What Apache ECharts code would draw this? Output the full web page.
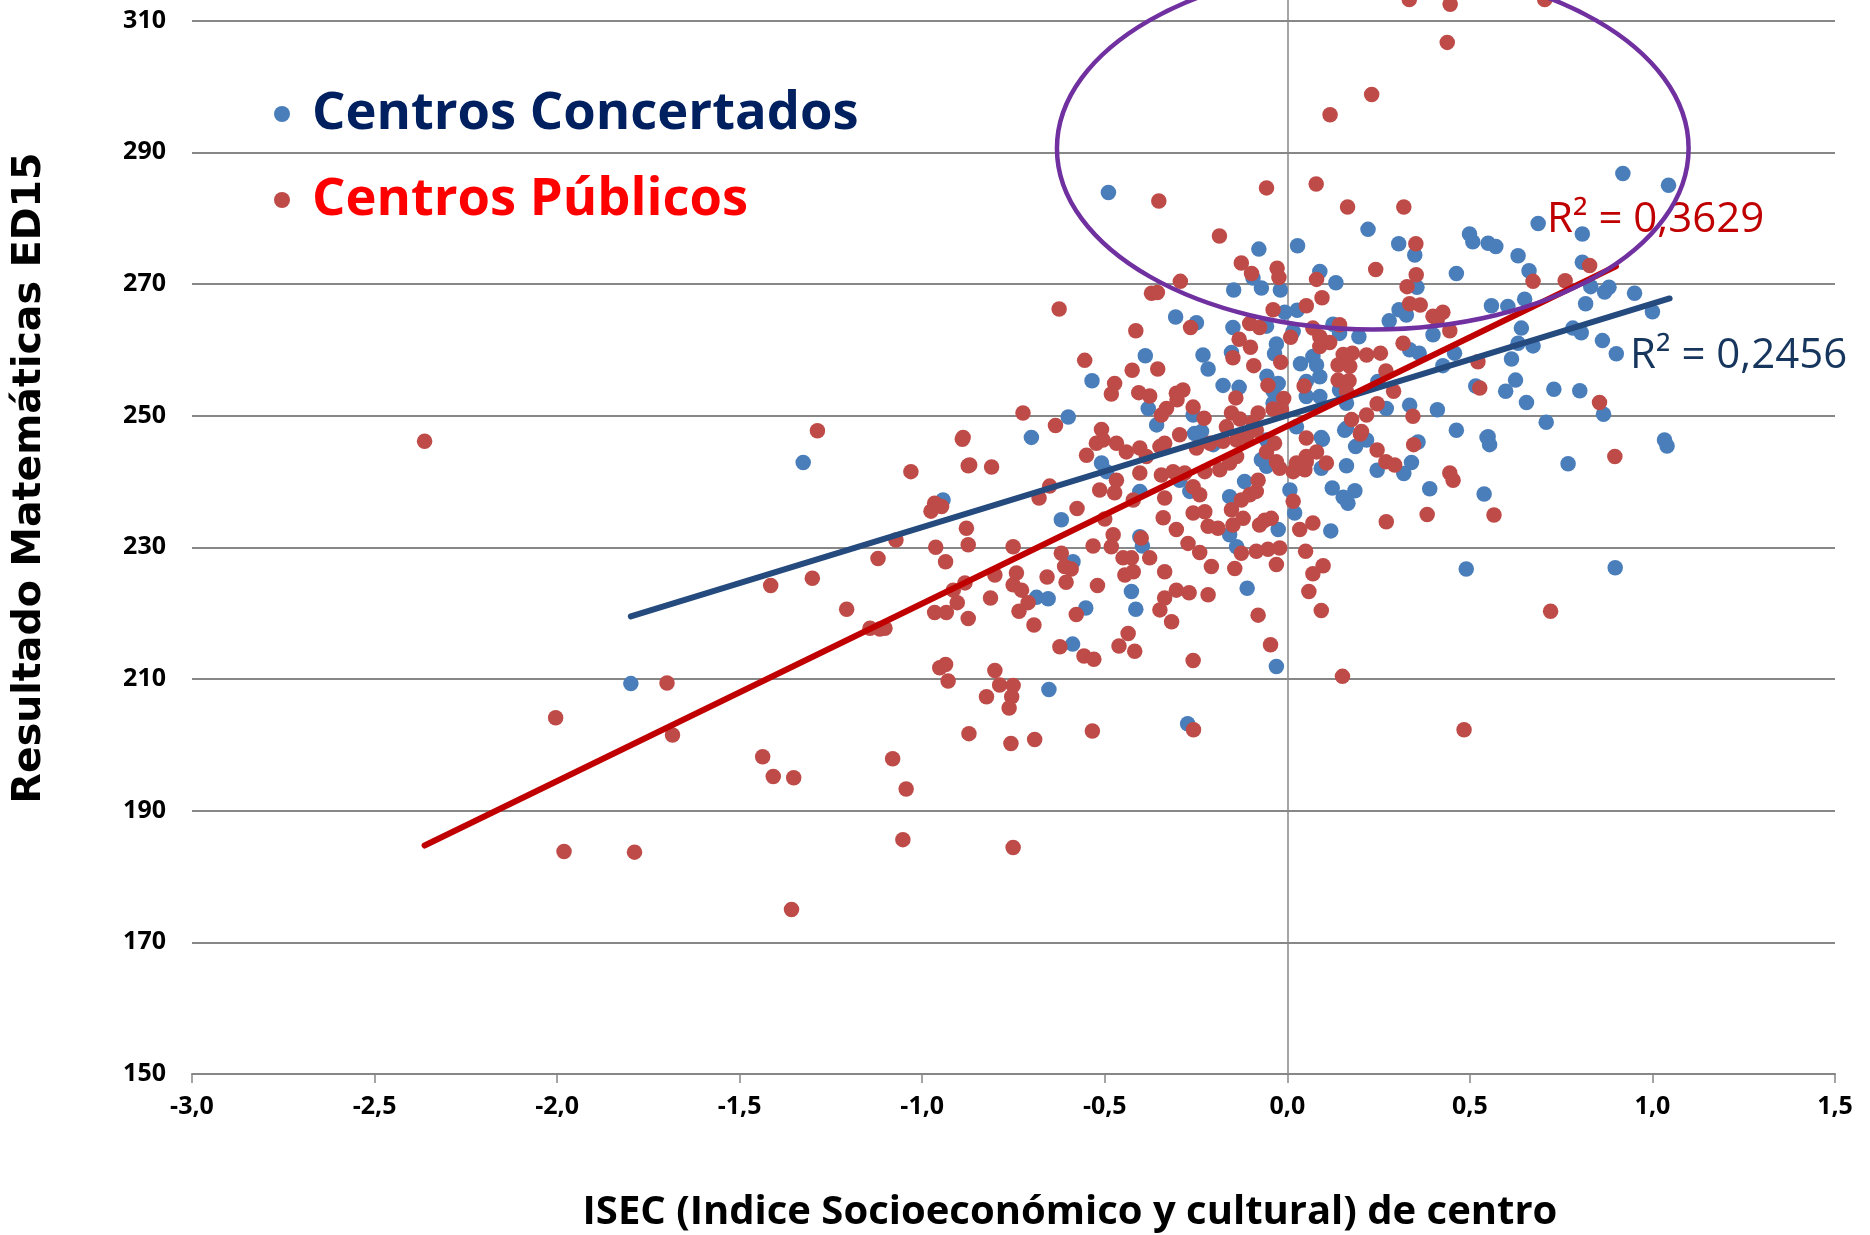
<!DOCTYPE html>
<html>
<head>
<meta charset="utf-8">
<script src="https://cdn.jsdelivr.net/npm/echarts@6/dist/echarts.min.js"></script>
<style>
  html, body { margin: 0; padding: 0; background: #fff; }
  #chart { width: 1870px; height: 1235px; }
</style>
</head>
<body>
<div id="chart"></div>
<script>
// ISEC (x) vs resultado matemáticas (y)
var concertados = [
  [-0.078,275.3],[0.028,275.8],[-0.094,270.9],[-0.071,269.4],[-0.019,269.1],[-0.147,269.1],[-0.007,265.7],[0.027,266.0],
  [-0.057,263.6],[-0.306,265.0],[-0.249,264.1],[-0.149,263.4],[-0.030,260.9],[-0.035,259.4],[0.016,262.8],[-0.389,259.1],
  [-0.231,259.2],[-0.217,257.1],[-0.153,259.6],[0.036,257.9],[-0.535,255.3],[-0.176,254.6],[-0.132,254.3],[-0.056,256.0],
  [-0.025,254.9],[-0.039,253.8],[0.052,252.9],[-0.039,251.9],[-0.381,251.1],[-0.358,248.6],[-0.258,250.1],[-0.600,249.8],
  [0.025,248.3],[-0.701,246.7],
  [0.687,279.2],[0.221,278.3],[0.499,277.6],[0.508,276.4],[0.808,277.6],[0.550,276.2],[0.571,275.7],[0.305,276.1],
  [0.349,274.4],[0.632,274.3],[0.808,273.3],[0.662,272.0],[0.089,271.9],[0.463,271.6],[0.133,270.2],[0.355,269.5],
  [0.831,269.6],[0.881,269.5],[0.869,268.8],[0.951,268.6],[1.000,265.8],[0.650,267.7],[0.559,266.7],[0.604,266.6],
  [0.817,267.0],[0.306,266.1],[0.326,265.3],[0.279,264.4],[0.125,263.9],[0.143,262.5],[0.196,262.0],[0.399,262.3],
  [0.641,263.3],[0.782,263.3],[0.805,262.6],[0.632,261.0],[0.673,260.6],[0.863,261.4],[0.901,259.4],[0.335,260.0],
  [0.361,259.5],[0.458,259.5],[0.614,258.6],[0.426,257.6],[0.080,257.7],[0.089,255.9],[0.248,255.2],[0.516,254.5],
  [0.625,255.4],[0.143,253.9],[0.598,253.7],[0.730,254.0],[0.801,253.8],[0.866,250.2],[0.655,252.0],[0.162,251.9],
  [0.335,251.6],[0.271,251.1],[0.411,250.9],[0.709,249.0],[0.463,247.8],[0.162,248.1],[0.550,246.8],[0.093,246.7],
  [1.033,246.3],[0.089,252.9],[0.052,255.2],[0.070,259.0],
  [-0.254,247.3],[-0.235,247.6],[-0.203,245.6],[-0.057,246.3],[-0.071,243.3],[-0.057,242.3],[-0.509,242.8],[-0.495,241.5],
  [-0.295,240.2],[-0.267,238.5],[-0.404,238.5],[-0.158,237.7],[-0.117,240.0],[0.007,238.7],[0.020,235.2],[-0.619,234.2],
  [-0.404,231.6],[-0.397,230.2],[-0.158,231.9],[-0.139,230.1],[-0.025,232.7],[-0.587,227.8],[-0.110,223.8],[-0.427,223.3],
  [-0.687,222.4],[-0.655,222.2],[-0.552,220.8],[-0.415,220.6],[-0.588,215.3],[-0.030,211.9],
  [0.096,246.4],[0.157,247.8],[0.217,246.3],[0.187,245.3],[0.093,242.0],[0.162,242.4],[0.246,241.7],[0.319,241.2],
  [0.340,242.9],[0.358,246.0],[0.547,246.7],[0.554,245.6],[1.040,245.4],[0.769,242.7],[0.123,239.0],[0.153,237.6],
  [0.185,238.6],[0.166,236.7],[0.390,238.9],[0.539,238.1],[0.119,232.5],[0.490,226.7],[0.898,226.9],
  [-1.326,242.9],[-0.943,237.2],[-1.798,209.3],[-0.653,208.4],[-0.273,203.2],[-0.490,283.9],[0.919,286.8],[1.044,285.0]
];

var publicos = [
  [-2.363,246.1],[-2.004,204.1],[-1.981,183.8],[-1.788,183.7],[-1.699,209.4],[-1.684,201.5],[-1.437,198.2],[-1.408,195.2],
  [-1.352,195.0],[-1.358,175.0],[-1.415,224.2],[-1.287,247.7],[-1.301,225.3],[-1.207,220.6],[-1.143,217.7],[-1.116,217.6],
  [-1.102,217.7],[-1.121,228.3],[-1.072,231.1],[-1.081,197.9],[-1.044,193.3],[-1.053,185.6],[-1.031,241.5],[-0.890,246.4],
  [-0.874,242.4],[-0.966,236.7],[-0.947,236.2],[-0.976,235.5],[-0.963,230.0],[-0.936,227.8],[-0.915,223.5],[-0.883,224.6],
  [-0.904,221.6],[-0.966,220.1],[-0.934,220.1],[-0.952,211.7],[-0.936,212.2],[-0.929,209.7],
  [-0.788,209.1],[-0.751,209.0],[-0.824,207.3],[-0.755,207.3],[-0.762,205.6],[-0.872,201.7],[-0.757,200.2],[-0.692,200.8],
  [-0.534,202.1],[-0.751,184.4],
  [0.151,210.4],[0.484,202.3],[0.721,220.3],[-0.257,202.3],
  [0.334,313.2],[0.446,312.5],[0.705,313.2],[0.438,306.7],[0.231,298.8],[0.117,295.7],[-0.057,284.6],[0.079,285.2],
  [0.165,281.7],[0.319,281.7],[-0.352,282.6],[-0.186,277.3],
  [-0.126,273.2],[-0.098,271.6],[-0.028,272.4],[-0.023,271.0],[-0.293,270.4],[-0.372,268.6],[-0.356,268.7],[-0.625,266.2],
  [-0.039,266.1],[0.052,266.7],[-0.103,264.0],[-0.076,263.4],[-0.265,263.4],[-0.415,262.9],[-0.132,261.6],[-0.101,260.4],
  [0.009,261.9],[-0.555,258.4],[-0.149,258.8],[-0.092,257.6],[-0.018,258.1],[-0.425,256.9],[-0.355,257.1],[-0.473,254.9],
  [-0.482,253.3],[-0.407,253.5],[-0.377,253.0],[-0.053,254.6],[0.046,254.5],[-0.304,253.4],[-0.286,253.9],[-0.302,252.4],
  [-0.141,252.7],[-0.010,252.6],[-0.331,251.1],[-0.345,250.1],[-0.258,251.3],[-0.228,249.6],[-0.724,250.4],[-0.635,248.5],
  [-0.153,250.4],[-0.130,249.5],[-0.080,250.4],[-0.039,251.0],[-0.016,250.9],[-0.094,249.0],[-0.167,248.3],[-0.509,247.9],
  [-0.888,246.7],
  [0.352,276.1],[0.828,272.8],[0.242,272.2],[0.353,271.4],[0.080,270.7],[0.673,270.4],[0.761,270.5],[0.328,269.6],
  [0.095,267.9],[0.335,267.0],[0.364,266.8],[0.399,265.1],[0.426,265.7],[0.411,264.7],[0.143,263.8],[0.070,263.3],
  [0.089,262.0],[0.445,262.9],[0.089,260.5],[0.116,261.1],[0.317,261.0],[0.153,259.3],[0.178,259.5],[0.217,259.2],
  [0.255,259.5],[0.522,258.2],[0.139,257.7],[0.171,257.5],[0.270,256.8],[0.139,255.4],[0.169,255.3],[0.527,254.2],
  [0.162,253.7],[0.291,253.7],[0.855,252.0],[0.246,251.8],[0.217,250.1],[0.176,249.4],[0.344,249.9],[0.203,247.6],
  [-0.523,245.8],[-0.505,246.3],[-0.468,245.8],[-0.550,244.0],[-0.441,244.5],[-0.404,245.1],[-0.386,243.8],[-0.349,245.3],
  [-0.336,245.8],[-0.295,247.1],[-0.249,245.1],[-0.212,245.8],[-0.176,246.1],[-0.139,246.3],[-0.112,246.8],[-0.085,247.8],
  [-0.035,245.8],[-0.057,244.5],[-0.030,243.0],[-0.021,242.0],[0.016,241.5],[0.025,242.8],[0.052,243.0],[0.048,241.8],
  [-0.870,242.5],[-0.810,242.2],[-0.404,241.3],[-0.345,241.0],[-0.313,241.5],[-0.281,241.3],[-0.226,241.5],[-0.185,241.8],
  [-0.158,242.8],[-0.139,243.8],[-0.468,240.2],[-0.514,238.7],[-0.473,238.3],[-0.258,239.2],[-0.240,238.0],[-0.422,237.2],
  [-0.336,237.5],[-0.126,237.2],[-0.103,238.0],[-0.085,238.5],[-0.080,240.2],[-0.651,239.3],[-0.680,237.5],[-0.879,232.9],
  [-0.874,230.4],[-0.576,235.9],[-0.500,234.3],[-0.340,234.5],[-0.258,235.2],[-0.226,235.4],[-0.217,233.2],[-0.190,232.9],
  [-0.153,235.7],[-0.149,233.4],[-0.121,234.4],[-0.076,233.4],[-0.062,234.1],[-0.044,234.4],[0.016,237.0],[0.034,232.7],
  [-0.477,231.9],[-0.482,230.1],[-0.532,230.2],[-0.751,230.1],[-0.400,231.4],[-0.304,232.7],[-0.272,230.6],[-0.126,229.1],
  [-0.085,229.4],[-0.053,229.7],[-0.021,229.9],[-0.240,229.2],[-0.619,229.1],[-0.610,227.1],[-0.592,226.7],[-0.450,228.4],
  [-0.427,228.4],[-0.377,228.4],[-0.422,226.3],[-0.445,225.8],[-0.336,226.3],[-0.208,227.1],[-0.144,226.8],[-0.030,227.4],
  [-0.751,224.3],[-0.742,226.1],[-0.728,223.5],[-0.658,225.5],[-0.801,225.8],[-0.606,224.7],[-0.520,224.2],[-0.304,223.5],
  [-0.269,223.1],[-0.217,222.8],[-0.710,221.6],[-0.813,222.3],[-0.336,222.3],[-0.349,220.5],[-0.578,219.8],[-0.735,220.3],
  [-0.874,219.2],[-0.317,218.7],[-0.080,219.7],[-0.694,218.2],[-0.436,216.9],[-0.461,215.0],[-0.418,214.2],[-0.623,214.9],
  [-0.557,213.5],[-0.530,213.0],[-0.258,212.8],[-0.046,215.2],[-0.801,211.3],
  [0.052,246.6],[0.200,247.2],[0.080,244.5],[0.052,243.8],[0.107,242.8],[0.043,242.8],[0.246,244.8],[0.270,243.0],
  [0.294,242.5],[0.346,245.6],[0.897,243.8],[0.445,241.3],[0.454,240.2],[0.070,233.7],[0.271,233.9],[0.383,235.0],
  [0.566,234.9],[0.050,229.4],[0.098,227.2],[0.070,226.0],[0.059,223.3],[0.093,220.4]
];

// líneas de tendencia (extremos)
var tendConcertados = [[-1.798, 219.5], [1.047, 267.8]];
var tendPublicos = [[-2.363, 184.7], [0.900, 272.7]];
var r2Concertados = 'R² = 0,2456';
var r2Publicos = 'R² = 0,3629';
// elipse: centro x, centro y, semieje x, semieje y
var elipse = [[0.234, 290.6, 0.865, 27.5]];

var myChart = echarts.init(document.getElementById('chart'));
var gris = '#878787';

option = {
    animation: false,
    backgroundColor: '#fff',
    grid: {
        left: 192,
        right: 35,
        top: -111,
        bottom: 161,
        containLabel: false,
        outerBoundsMode: 'none'
    },
    legend: {
        orient: 'vertical',
        left: 269,
        top: 79,
        icon: 'circle',
        itemWidth: 16,
        itemHeight: 16,
        itemGap: 26,
        data: [
            { name: 'Centros Concertados', textStyle: { color: '#002060' } },
            { name: 'Centros Públicos', textStyle: { color: '#ff0000' } }
        ],
        textStyle: {
            fontFamily: 'Open Sans',
            fontWeight: 'bold',
            fontSize: 52.5,
            lineHeight: 60,
            padding: [0, 0, 0, 17]
        }
    },
    xAxis: {
        type: 'value',
        min: -3,
        max: 1.5,
        interval: 0.5,
        axisLine: { onZero: false, lineStyle: { color: gris, width: 2 } },
        axisTick: { show: true, length: 9, lineStyle: { color: gris, width: 1.5 } },
        splitLine: { show: false },
        axisLabel: {
            margin: 20,
            color: '#000',
            fontFamily: 'Open Sans',
            fontWeight: 'bold',
            fontSize: 25,
            formatter: function (v) { return v.toFixed(1).replace('.', ','); }
        }
    },
    yAxis: {
        type: 'value',
        min: 150,
        max: 330,
        interval: 20,
        axisLine: { show: false },
        axisTick: { show: false },
        splitLine: { show: true, lineStyle: { color: gris, width: 2 } },
        axisLabel: {
            margin: 26,
            color: '#000',
            fontFamily: 'Open Sans',
            fontWeight: 'bold',
            fontSize: 25
        }
    },
    graphic: [
        {
            type: 'text',
            x: 30, y: 478,
            rotation: Math.PI / 2,
            style: {
                text: 'Resultado Matemáticas ED15',
                font: 'bold 39.5px "DejaVu Sans"',
                fill: '#000',
                align: 'center', verticalAlign: 'middle',
                textAlign: 'center', textVerticalAlign: 'middle'
            }
        },
        {
            type: 'text',
            x: 1070, y: 1213,
            style: {
                text: 'ISEC (Indice Socioeconómico y cultural) de centro',
                font: 'bold 40px "Open Sans"',
                fill: '#000',
                align: 'center', verticalAlign: 'middle',
                textAlign: 'center', textVerticalAlign: 'middle'
            }
        },
        {
            type: 'text',
            x: 1547, y: 220, z: 10,
            style: {
                text: r2Publicos,
                font: '42px "Open Sans"',
                fill: '#c00000',
                align: 'left', verticalAlign: 'middle',
                textAlign: 'left', textVerticalAlign: 'middle'
            }
        },
        {
            type: 'text',
            x: 1630, y: 356, z: 10,
            style: {
                text: r2Concertados,
                font: '42px "Open Sans"',
                fill: '#17365d',
                align: 'left', verticalAlign: 'middle',
                textAlign: 'left', textVerticalAlign: 'middle'
            }
        }
    ],
    series: [
        {
            name: 'eje',
            type: 'line',
            data: [],
            silent: true,
            markLine: {
                silent: true,
                symbol: 'none',
                z: 1,
                label: { show: false },
                lineStyle: { color: gris, width: 1.5, type: 'solid' },
                data: [{ xAxis: 0 }]
            }
        },
        {
            name: 'Centros Concertados',
            type: 'scatter',
            data: concertados,
            symbolSize: 15.5,
            itemStyle: { color: '#4a7ebb', opacity: 1 },
            z: 2
        },
        {
            name: 'Centros Públicos',
            type: 'scatter',
            data: publicos,
            symbolSize: 15.5,
            itemStyle: { color: '#be4b48', opacity: 1 },
            z: 3
        },
        {
            name: 'tendencia concertados',
            type: 'line',
            data: tendConcertados,
            showSymbol: false,
            symbol: 'none',
            silent: true,
            lineStyle: { color: '#254a7e', width: 6, cap: 'round' },
            z: 4
        },
        {
            name: 'tendencia publicos',
            type: 'line',
            data: tendPublicos,
            showSymbol: false,
            symbol: 'none',
            silent: true,
            lineStyle: { color: '#c00000', width: 6, cap: 'round' },
            z: 5
        },
        {
            name: 'elipse',
            type: 'custom',
            data: elipse,
            silent: true,
            clip: false,
            z: 20,
            renderItem: function (params, api) {
                var c = api.coord([api.value(0), api.value(1)]);
                var s = api.size([api.value(2), api.value(3)]);
                return {
                    type: 'ellipse',
                    shape: { cx: c[0], cy: c[1], rx: s[0], ry: s[1] },
                    style: { fill: null, stroke: '#7030a0', lineWidth: 4.5 }
                };
            }
        }
    ]
};

myChart.setOption(option);
</script>
</body>
</html>
